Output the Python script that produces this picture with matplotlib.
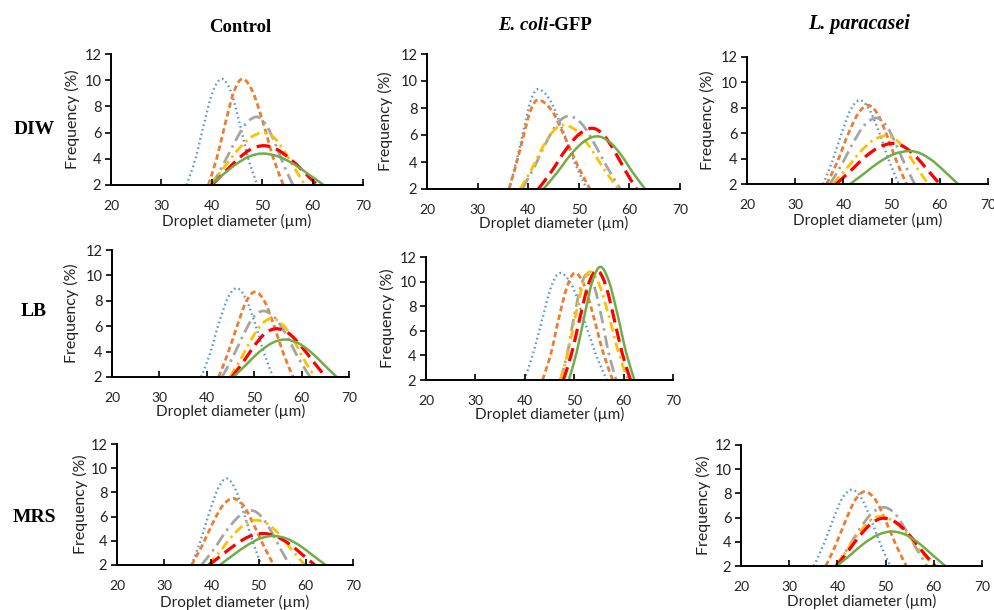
"""Droplet size distributions (Control / E. coli-GFP / L. paracasei in DIW, LB, MRS)."""

import matplotlib

matplotlib.use("Agg")
import matplotlib.pyplot as plt
import numpy as np
from matplotlib.patches import PathPatch
from matplotlib.path import Path

# ---- data: 6 curves per panel (blue, orange, grey, yellow, red, green) ----
ctrl_diw_x = [
    [35.0, 36.8, 38.5, 40.2, 42.0, 43.8, 45.5, 47.2, 49.0],
    [39.3, 41.0, 42.7, 44.4, 46.1, 48.1, 50.2, 52.2, 54.2],
    [40.0, 42.2, 44.5, 46.7, 48.9, 50.7, 52.5, 54.3, 56.1],
    [39.5, 42.2, 44.9, 47.6, 50.3, 52.4, 54.4, 56.5, 58.5],
    [40.0, 42.6, 45.2, 47.7, 50.3, 52.9, 55.6, 58.3, 60.9],
    [39.7, 42.3, 44.9, 47.5, 50.1, 53.1, 56.2, 59.2, 62.2],
]
ctrl_diw_y = [
    [2, 4.06, 6.74, 9.13, 10.1, 9.13, 6.74, 4.06, 2],
    [2, 4.06, 6.74, 9.13, 10.1, 9.13, 6.74, 4.06, 2],
    [2, 3.50, 5.23, 6.65, 7.2, 6.65, 5.23, 3.50, 2],
    [2, 3.23, 4.56, 5.60, 6.0, 5.60, 4.56, 3.23, 2],
    [2, 2.99, 3.98, 4.72, 5.0, 4.72, 3.98, 2.99, 2],
    [2, 2.82, 3.61, 4.19, 4.4, 4.19, 3.61, 2.82, 2],
]

ecoli_diw_x = [
    [36.2, 37.6, 39.1, 40.5, 42.0, 44.4, 46.8, 49.2, 51.6],
    [36.2, 37.6, 39.1, 40.5, 42.0, 44.6, 47.1, 49.7, 52.2],
    [38.8, 41.1, 43.4, 45.7, 48.0, 50.6, 53.1, 55.7, 58.2],
    [38.4, 40.6, 42.7, 44.9, 47.0, 49.7, 52.4, 55.1, 57.8],
    [42.0, 44.7, 47.3, 50.0, 52.6, 54.8, 57.0, 59.2, 61.4],
    [43.0, 45.7, 48.3, 51.0, 53.6, 56.0, 58.4, 60.7, 63.1],
]
ecoli_diw_y = [
    [2, 3.94, 6.38, 8.53, 9.4, 8.53, 6.38, 3.94, 2],
    [2, 3.79, 5.97, 7.85, 8.6, 7.85, 5.97, 3.79, 2],
    [2, 3.55, 5.34, 6.82, 7.4, 6.82, 5.34, 3.55, 2],
    [2, 3.41, 4.98, 6.26, 6.75, 6.26, 4.98, 3.41, 2],
    [2, 3.35, 4.84, 6.04, 6.5, 6.04, 4.84, 3.35, 2],
    [2, 3.21, 4.50, 5.51, 5.9, 5.51, 4.50, 3.21, 2],
]

lpara_diw_x = [
    [35.8, 37.7, 39.6, 41.5, 43.4, 45.4, 47.5, 49.5, 51.5],
    [36.5, 38.7, 40.8, 43.0, 45.1, 47.1, 49.1, 51.1, 53.1],
    [37.2, 39.6, 42.0, 44.4, 46.8, 48.8, 50.8, 52.8, 54.8],
    [37.8, 40.6, 43.3, 46.1, 48.9, 51.1, 53.3, 55.4, 57.6],
    [38.5, 41.5, 44.4, 47.4, 50.3, 52.7, 55.2, 57.6, 60.0],
    [41.4, 44.5, 47.5, 50.6, 53.7, 56.2, 58.8, 61.3, 63.8],
]
lpara_diw_y = [
    [2, 3.79, 5.97, 7.85, 8.6, 7.85, 5.97, 3.79, 2],
    [2, 3.71, 5.76, 7.51, 8.2, 7.51, 5.76, 3.71, 2],
    [2, 3.50, 5.23, 6.65, 7.2, 6.65, 5.23, 3.50, 2],
    [2, 3.19, 4.44, 5.43, 5.8, 5.43, 4.44, 3.19, 2],
    [2, 3.04, 4.10, 4.90, 5.2, 4.90, 4.10, 3.04, 2],
    [2, 2.88, 3.74, 4.37, 4.6, 4.37, 3.74, 2.88, 2],
]

ctrl_lb_x = [
    [38.8, 40.7, 42.5, 44.4, 46.3, 48.2, 50.2, 52.1, 54.0],
    [42.5, 44.4, 46.4, 48.3, 50.2, 52.2, 54.2, 56.2, 58.2],
    [43.2, 45.4, 47.6, 49.7, 51.9, 54.4, 56.9, 59.3, 61.8],
    [44.9, 47.1, 49.3, 51.5, 53.7, 56.0, 58.3, 60.5, 62.8],
    [45.3, 47.7, 50.0, 52.3, 54.7, 57.3, 59.9, 62.5, 65.1],
    [45.6, 48.3, 51.0, 53.8, 56.5, 59.2, 62.0, 64.7, 67.4],
]
ctrl_lb_y = [
    [2, 3.86, 6.18, 8.19, 9.0, 8.19, 6.18, 3.86, 2],
    [2, 3.81, 6.02, 7.94, 8.7, 7.94, 6.02, 3.81, 2],
    [2, 3.50, 5.23, 6.65, 7.2, 6.65, 5.23, 3.50, 2],
    [2, 3.37, 4.90, 6.13, 6.6, 6.13, 4.90, 3.37, 2],
    [2, 3.19, 4.44, 5.43, 5.8, 5.43, 4.44, 3.19, 2],
    [2, 2.97, 3.95, 4.68, 4.95, 4.68, 3.95, 2.97, 2],
]

ecoli_lb_x = [
    [39.9, 41.7, 43.6, 45.4, 47.2, 49.6, 51.9, 54.3, 56.6],
    [43.6, 45.3, 46.9, 48.6, 50.2, 52.1, 54.0, 55.9, 57.8],
    [47.2, 48.6, 49.9, 51.3, 52.6, 54.1, 55.6, 57.0, 58.5],
    [47.2, 48.7, 50.2, 51.7, 53.2, 55.1, 57.1, 59.0, 60.9],
    [47.8, 49.5, 51.2, 52.9, 54.6, 56.3, 58.0, 59.7, 61.4],
    [48.9, 50.5, 52.1, 53.7, 55.3, 57.0, 58.8, 60.5, 62.2],
]
ecoli_lb_y = [
    [2, 4.17, 7.04, 9.64, 10.7, 9.64, 7.04, 4.17, 2],
    [2, 4.17, 7.04, 9.64, 10.7, 9.64, 7.04, 4.17, 2],
    [2, 4.15, 6.99, 9.55, 10.6, 9.55, 6.99, 4.15, 2],
    [2, 4.18, 7.08, 9.72, 10.8, 9.72, 7.08, 4.18, 2],
    [2, 4.20, 7.13, 9.80, 10.9, 9.80, 7.13, 4.20, 2],
    [2, 4.25, 7.28, 10.06, 11.2, 10.06, 7.28, 4.25, 2],
]

ctrl_mrs_x = [
    [35.8, 37.6, 39.5, 41.4, 43.2, 45.0, 46.9, 48.8, 50.6],
    [35.8, 38.0, 40.2, 42.4, 44.6, 46.8, 48.9, 51.1, 53.2],
    [37.9, 40.6, 43.2, 45.9, 48.5, 50.5, 52.6, 54.6, 56.6],
    [39.3, 41.9, 44.4, 47.0, 49.5, 52.1, 54.7, 57.2, 59.8],
    [39.5, 42.4, 45.3, 48.1, 51.0, 53.7, 56.5, 59.2, 61.9],
    [41.8, 44.6, 47.5, 50.3, 53.1, 55.9, 58.7, 61.4, 64.2],
]
ctrl_mrs_y = [
    [2, 3.89, 6.26, 8.32, 9.15, 8.32, 6.26, 3.89, 2],
    [2, 3.57, 5.39, 6.91, 7.5, 6.91, 5.39, 3.57, 2],
    [2, 3.35, 4.84, 6.04, 6.5, 6.04, 4.84, 3.35, 2],
    [2, 3.16, 4.39, 5.34, 5.7, 5.34, 4.39, 3.16, 2],
    [2, 2.88, 3.74, 4.37, 4.6, 4.37, 3.74, 2.88, 2],
    [2, 2.82, 3.61, 4.19, 4.4, 4.19, 3.61, 2.82, 2],
]

lpara_mrs_x = [
    [35.1, 37.1, 39.1, 41.0, 43.0, 45.0, 47.0, 49.0, 51.0],
    [37.6, 39.6, 41.7, 43.7, 45.7, 47.9, 50.0, 52.2, 54.3],
    [39.6, 42.1, 44.6, 47.1, 49.6, 51.9, 54.1, 56.4, 58.6],
    [39.6, 41.9, 44.3, 46.6, 48.9, 51.7, 54.5, 57.2, 60.0],
    [39.8, 42.2, 44.7, 47.2, 49.6, 52.3, 55.0, 57.6, 60.3],
    [39.9, 42.8, 45.6, 48.5, 51.3, 54.1, 56.9, 59.6, 62.4],
]
lpara_mrs_y = [
    [2, 3.73, 5.82, 7.59, 8.3, 7.59, 5.82, 3.73, 2],
    [2, 3.70, 5.74, 7.46, 8.15, 7.46, 5.74, 3.70, 2],
    [2, 3.43, 5.04, 6.34, 6.85, 6.34, 5.04, 3.43, 2],
    [2, 3.26, 4.62, 5.69, 6.1, 5.69, 4.62, 3.26, 2],
    [2, 3.22, 4.53, 5.56, 5.95, 5.56, 4.53, 3.22, 2],
    [2, 2.95, 3.89, 4.59, 4.85, 4.59, 3.89, 2.95, 2],
]

x_ticks = [20, 30, 40, 50, 60, 70]
y_ticks = [2, 4, 6, 8, 10, 12]

# ---- styles ----
COLORS = ["#5B9BD5", "#ED7D31", "#A5A5A5", "#FFC000", "#FF0000", "#70AD47"]
STYLES = [
    (0, (0.7, 1.3)),
    (0, (2.0, 1.2)),
    (0, (4.5, 1.8, 0.9, 1.8)),
    (0, (3.5, 1.6, 0.9, 1.6)),
    (0, (4.2, 2.0)),
    "-",
]
WIDTHS = [1.7, 2.0, 2.0, 2.0, 2.3, 1.8]

W, H = 995, 610
SANS = "Lato"
SERIF = "Liberation Serif"

# panel boxes in pixels: (left, right, top, bottom), x-label centre y, y-label centre x
panels = [
    (ctrl_diw_x, ctrl_diw_y, (111, 363, 54, 185), 221, 72),
    (ecoli_diw_x, ecoli_diw_y, (427, 680, 54, 189), 223, 385),
    (lpara_diw_x, lpara_diw_y, (747, 988, 57, 184), 220, 707),
    (ctrl_lb_x, ctrl_lb_y, (112, 349, 250, 377), 411, 71),
    (ecoli_lb_x, ecoli_lb_y, (426, 673, 257, 380), 414, 387),
    (ctrl_mrs_x, ctrl_mrs_y, (117, 353, 444, 565), 602, 80),
    (lpara_mrs_x, lpara_mrs_y, (741, 982, 445, 566), 601, 703),
]


def smooth_path(x, y):
    """Excel-like smoothed line: Catmull-Rom through the points as cubic Beziers."""
    p = np.column_stack([x, y]).astype(float)
    ext = np.vstack([p[0], p, p[-1]])
    verts = [p[0]]
    codes = [Path.MOVETO]
    for i in range(len(p) - 1):
        p0, p1, p2, p3 = ext[i], ext[i + 1], ext[i + 2], ext[i + 3]
        verts += [p1 + (p2 - p0) / 6, p2 - (p3 - p1) / 6, p2]
        codes += [Path.CURVE4] * 3
    return Path(verts, codes)


fig = plt.figure(figsize=(W / 100, H / 100), dpi=100)

for xs, ys, (l, r, t, b), xl_y, yl_x in panels:
    ax = fig.add_axes([l / W, (H - b) / H, (r - l) / W, (b - t) / H])
    for k in range(6):
        ax.add_patch(PathPatch(smooth_path(xs[k], ys[k]), fill=False,
                               edgecolor=COLORS[k], linestyle=STYLES[k],
                               linewidth=WIDTHS[k], capstyle="butt"))
    ax.set_xlim(20, 70)
    ax.set_ylim(2, 12)
    ax.set_xticks(x_ticks)
    ax.set_yticks(y_ticks)
    for side in ["top", "right"]:
        ax.spines[side].set_visible(False)
    for side in ["left", "bottom"]:
        ax.spines[side].set_linewidth(1.4)
        ax.spines[side].set_color("black")
    ax.tick_params(axis="x", direction="in", length=4, width=1.2, pad=11,
                   labelsize=10, labelcolor="#222222")
    ax.tick_params(axis="y", direction="out", length=4, width=1.2, pad=3,
                   labelsize=10.5, labelcolor="#222222")
    for lab in ax.get_xticklabels() + ax.get_yticklabels():
        lab.set_fontfamily(SANS)
    ax.set_xlabel("Droplet diameter (\u00b5m)", fontsize=11, family=SANS,
                  color="#222222", va="center")
    ax.xaxis.set_label_coords(0.5, (b - xl_y) / (b - t))
    ax.set_ylabel("Frequency (%)", fontsize=11.5, family=SANS,
                  color="#222222", va="center")
    ax.yaxis.set_label_coords(-(l - yl_x) / (r - l), 0.5)

# column titles
fig.text(240 / W, 1 - 27 / H, "Control", ha="center", va="center",
         fontsize=13.5, fontweight="bold", family=SERIF)
fig.text(548 / W, 1 - 25 / H, "E. coli", ha="right", va="center",
         fontsize=13.5, fontweight="bold", fontstyle="italic", family=SERIF)
fig.text(548 / W, 1 - 25 / H, "-GFP", ha="left", va="center",
         fontsize=13.5, fontweight="bold", family=SERIF)
fig.text(859 / W, 1 - 24 / H, "L. paracasei", ha="center", va="center",
         fontsize=14.5, fontweight="bold", fontstyle="italic", family=SERIF)

# row labels
for label, y in [("DIW", 129), ("LB", 312), ("MRS", 517)]:
    fig.text(34 / W, 1 - y / H, label, ha="center", va="center",
             fontsize=14, fontweight="bold", family=SERIF)

fig.savefig("out.png", dpi=100)
